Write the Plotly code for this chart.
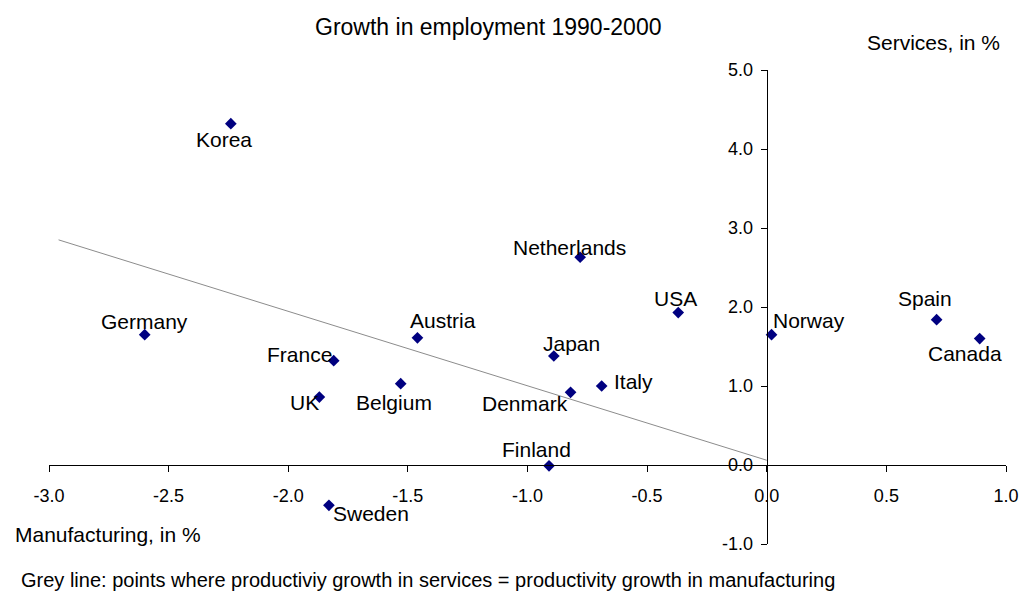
import plotly.graph_objects as go

# ---- data ----
countries = ["Korea", "Germany", "France", "Austria", "Belgium", "UK", "Sweden",
             "Finland", "Denmark", "Japan", "Italy", "Netherlands", "USA",
             "Norway", "Spain", "Canada"]
manufacturing = [-2.24, -2.60, -1.81, -1.46, -1.53, -1.87, -1.83,
                 -0.91, -0.82, -0.89, -0.69, -0.78, -0.37,
                 0.02, 0.71, 0.89]
services = [4.32, 1.65, 1.32, 1.61, 1.03, 0.86, -0.51,
            -0.01, 0.92, 1.38, 1.00, 2.63, 1.93,
            1.65, 1.84, 1.60]
line_x = [-2.96, 0.0]
line_y = [2.85, 0.06]
x_ticks = [-3.0, -2.5, -2.0, -1.5, -1.0, -0.5, 0.0, 0.5, 1.0]
y_ticks = [-1.0, 0.0, 1.0, 2.0, 3.0, 4.0, 5.0]
x_tick_labels = [f"{v:.1f}" for v in x_ticks]
y_tick_labels = [f"{v:.1f}" for v in y_ticks]

# ---- label offsets (pixels, style only) ----
label_shift = {
    "Korea": (-7, -16), "Germany": (0, 13), "France": (-34, 6),
    "Austria": (26, 17), "Belgium": (-7, -19), "UK": (-15, -5),
    "Sweden": (42, -8), "Finland": (-13, 16), "Denmark": (-46, -11),
    "Japan": (18, 12), "Italy": (32, 5), "Netherlands": (-11, 10),
    "USA": (-3, 14), "Norway": (37, 14), "Spain": (-12, 21),
    "Canada": (-15, -15),
}

FONT = "Liberation Sans, Arial, sans-serif"

fig = go.Figure()
fig.add_trace(go.Scatter(x=line_x, y=line_y, mode="lines",
                         line=dict(color="#8c8c8c", width=1),
                         hoverinfo="skip", showlegend=False))
fig.add_trace(go.Scatter(x=manufacturing, y=services, mode="markers",
                         marker=dict(symbol="diamond", size=9, color="#000080"),
                         text=countries, showlegend=False))

annotations = []
for c, xv, yv in zip(countries, manufacturing, services):
    dx, dy = label_shift[c]
    annotations.append(dict(x=xv, y=yv, xref="x", yref="y", text=c,
                            showarrow=False, xshift=dx, yshift=dy,
                            font=dict(family=FONT, size=21, color="black")))

annotations += [
    dict(text="Growth in employment 1990-2000", xref="paper", yref="paper",
         x=0.4587, y=1.091, xanchor="center", yanchor="middle", showarrow=False,
         font=dict(family=FONT, size=23, color="black")),
    dict(text="Services, in %", xref="paper", yref="paper",
         x=0.9958, y=1.059, xanchor="right", yanchor="middle", showarrow=False,
         font=dict(family=FONT, size=21, color="black")),
    dict(text="Manufacturing, in %", xref="paper", yref="paper",
         x=-0.038, y=0.019, xanchor="left", yanchor="middle", showarrow=False,
         font=dict(family=FONT, size=21, color="black")),
    dict(text="Grey line: points where productiviy growth in services = productivity growth in manufacturing",
         xref="paper", yref="paper", x=-0.0317, y=-0.076, xanchor="left",
         yanchor="middle", showarrow=False,
         font=dict(family=FONT, size=20, color="black")),
]

fig.update_layout(
    width=1023, height=592,
    margin=dict(l=49, r=17, t=70, b=48, autoexpand=False),
    paper_bgcolor="white", plot_bgcolor="white",
    font=dict(family=FONT, size=18, color="black"),
    showlegend=False,
    hovermode=False,
    annotations=annotations,
    xaxis=dict(range=[-3.0, 1.0], tickvals=x_ticks, ticktext=x_tick_labels,
               showgrid=False, zeroline=False, showline=True, automargin=False,
               linecolor="black", linewidth=1, ticks="outside", ticklen=6,
               tickcolor="black", anchor="free", position=1/6,
               ticklabelstandoff=8, tickfont=dict(size=18)),
    yaxis=dict(range=[-1.0, 5.0], tickvals=y_ticks, ticktext=y_tick_labels,
               showgrid=False, zeroline=False, showline=True, automargin=False,
               linecolor="black", linewidth=1, ticks="outside", ticklen=6,
               tickcolor="black", anchor="free", position=0.75,
               ticklabelstandoff=4, tickfont=dict(size=18)),
)

fig.write_html(
    "out.html",
    config={"displayModeBar": False, "staticPlot": True},
    post_script="document.body.style.margin='0';document.body.style.overflow='hidden';",
)
